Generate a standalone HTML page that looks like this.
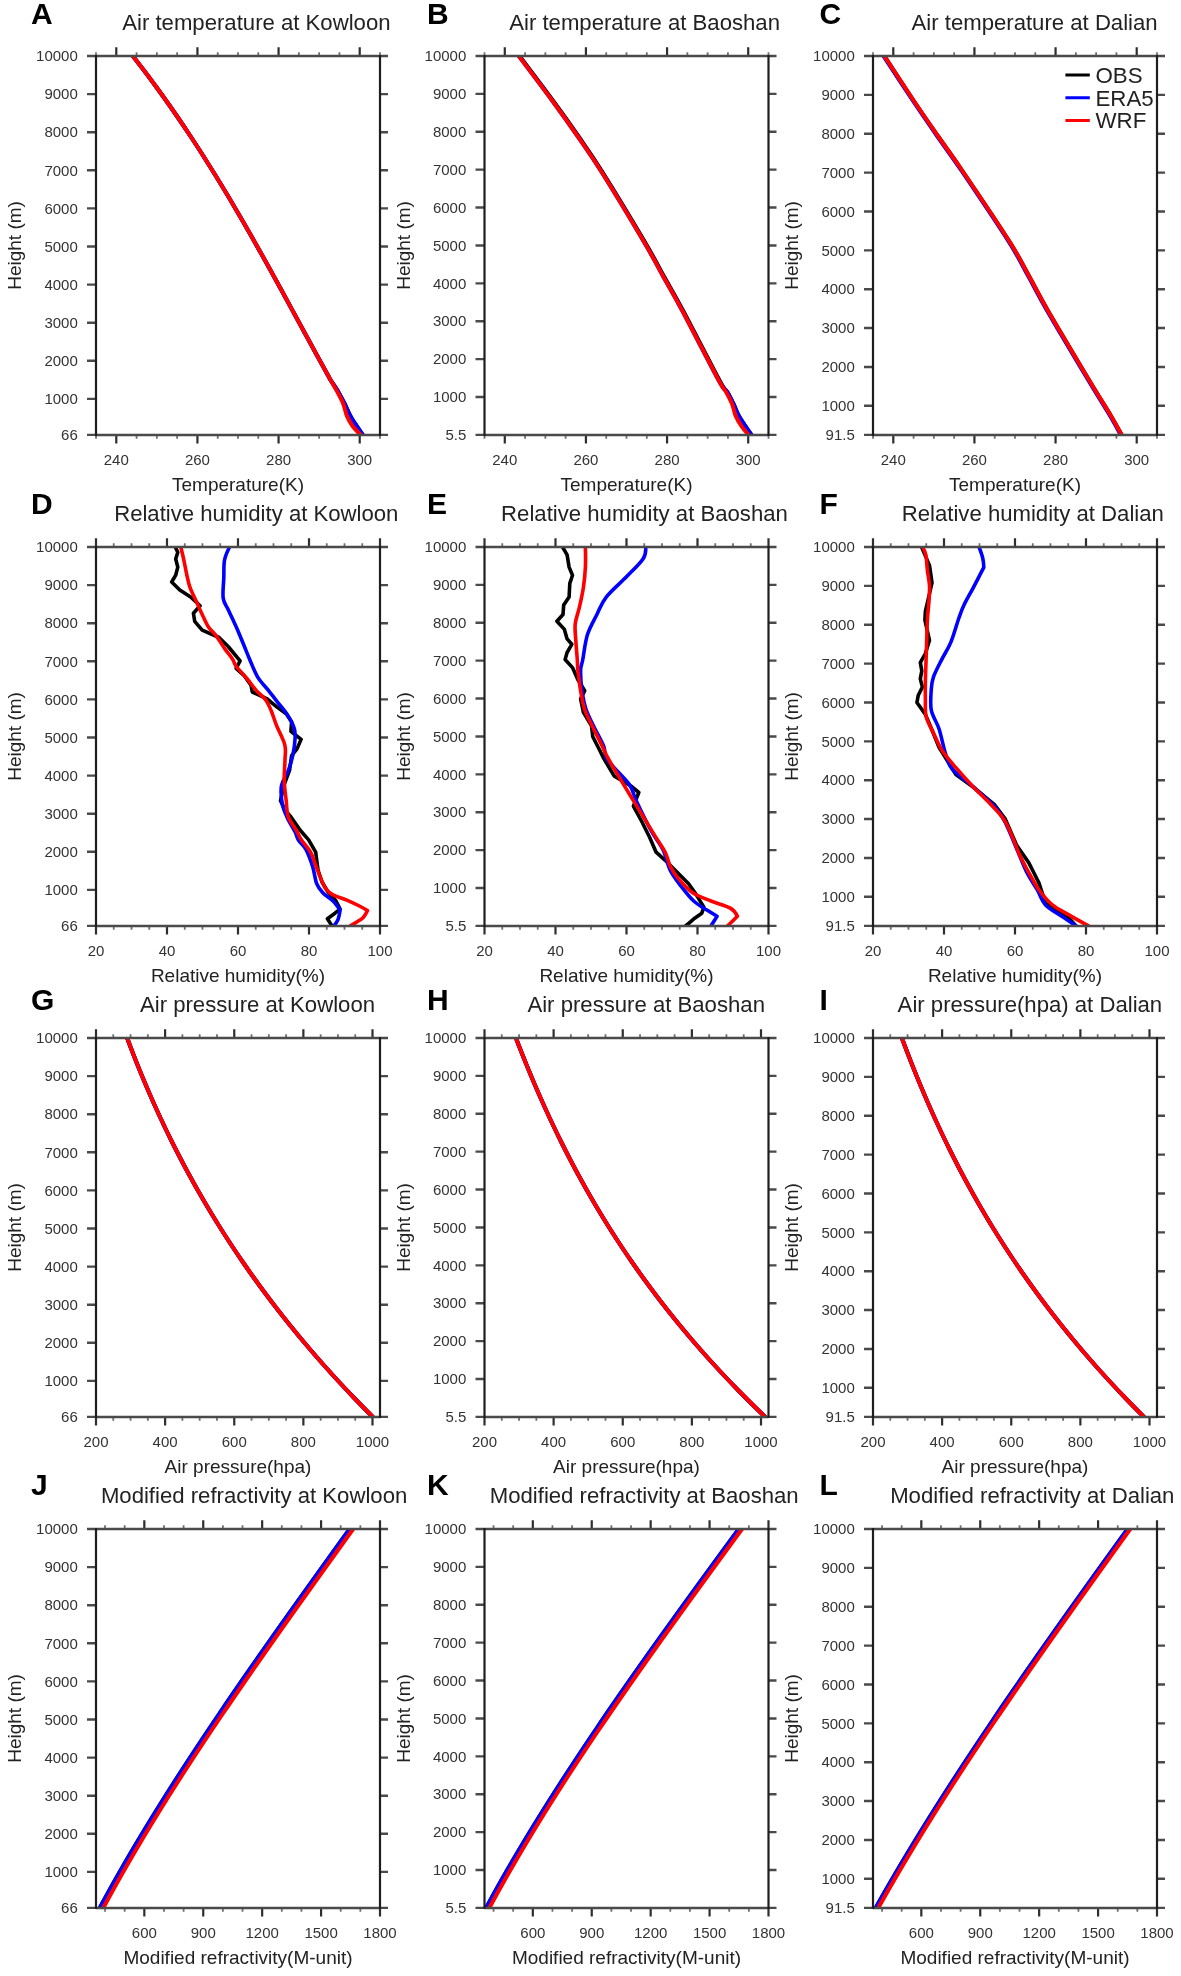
<!DOCTYPE html>
<html><head><meta charset="utf-8"><style>
html,body{margin:0;padding:0;background:#fff;overflow:hidden;}
svg{display:block;will-change:transform;}
text{font-family:"Liberation Sans",sans-serif;fill:#222;}
.let{font-size:30px;font-weight:bold;fill:#000;}
.ttl{font-size:22.15px;text-anchor:middle;}
.xt{font-size:19px;text-anchor:middle;}
.tl{font-size:15px;fill:#333;}
.lg{font-size:22.3px;}
.tkh{stroke:#4a4a4a;stroke-width:2.4;fill:none;}
.tkv{stroke:#2e2e2e;stroke-width:2.2;fill:none;}
.tkm{stroke:#707070;stroke-width:1.8;fill:none;}
.frh{stroke:#4a4a4a;stroke-width:2.5;fill:none;}
.frv{stroke:#1e1e1e;stroke-width:2.2;fill:none;}
.cv{fill:none;stroke-linejoin:round;stroke-linecap:round;}
</style></head><body>
<svg width="1181" height="1976" viewBox="0 0 1181 1976">
<defs><clipPath id="c1"><rect x="96" y="55.5" width="284" height="379.9"/></clipPath><clipPath id="c2"><rect x="484.5" y="55.5" width="284" height="379.9"/></clipPath><clipPath id="c3"><rect x="873" y="55.5" width="284" height="379.9"/></clipPath><clipPath id="c4"><rect x="96" y="546.5" width="284" height="379.9"/></clipPath><clipPath id="c5"><rect x="484.5" y="546.5" width="284" height="379.9"/></clipPath><clipPath id="c6"><rect x="873" y="546.5" width="284" height="379.9"/></clipPath><clipPath id="c7"><rect x="96" y="1037.5" width="284" height="379.9"/></clipPath><clipPath id="c8"><rect x="484.5" y="1037.5" width="284" height="379.9"/></clipPath><clipPath id="c9"><rect x="873" y="1037.5" width="284" height="379.9"/></clipPath><clipPath id="c10"><rect x="96" y="1528.5" width="284" height="379.9"/></clipPath><clipPath id="c11"><rect x="484.5" y="1528.5" width="284" height="379.9"/></clipPath><clipPath id="c12"><rect x="873" y="1528.5" width="284" height="379.9"/></clipPath></defs>
<g>
<rect width="1181" height="1976" fill="#fff"/>
<text x="31" y="23.9" class="let">A</text>
<text x="256.4" y="29.5" class="ttl">Air temperature at Kowloon</text>
<text x="238" y="490.9" class="xt">Temperature(K)</text>
<text transform="translate(21,245.45) rotate(-90)" class="xt">Height (m)</text>
<text x="77.8" y="61.25" class="tl" text-anchor="end">10000</text>
<text x="77.8" y="99.35" class="tl" text-anchor="end">9000</text>
<text x="77.8" y="137.45" class="tl" text-anchor="end">8000</text>
<text x="77.8" y="175.55" class="tl" text-anchor="end">7000</text>
<text x="77.8" y="213.65" class="tl" text-anchor="end">6000</text>
<text x="77.8" y="251.75" class="tl" text-anchor="end">5000</text>
<text x="77.8" y="289.85" class="tl" text-anchor="end">4000</text>
<text x="77.8" y="327.95" class="tl" text-anchor="end">3000</text>
<text x="77.8" y="366.05" class="tl" text-anchor="end">2000</text>
<text x="77.8" y="404.15" class="tl" text-anchor="end">1000</text>
<text x="77.8" y="440.15" class="tl" text-anchor="end">66</text>
<text x="116.29" y="464.9" class="tl" text-anchor="middle">240</text>
<text x="197.43" y="464.9" class="tl" text-anchor="middle">260</text>
<text x="278.57" y="464.9" class="tl" text-anchor="middle">280</text>
<text x="359.71" y="464.9" class="tl" text-anchor="middle">300</text>
<path d="M87 56H96M380 56H388M87 94.1H96M380 94.1H388M87 132.2H96M380 132.2H388M87 170.3H96M380 170.3H388M87 208.4H96M380 208.4H388M87 246.5H96M380 246.5H388M87 284.6H96M380 284.6H388M87 322.7H96M380 322.7H388M87 360.8H96M380 360.8H388M87 398.9H96M380 398.9H388M87 434.9H96M380 434.9H388" class="tkh"/>
<path d="M116.29 47.3V56M116.29 434.9V443.6M197.43 47.3V56M197.43 434.9V443.6M278.57 47.3V56M278.57 434.9V443.6M359.71 47.3V56M359.71 434.9V443.6" class="tkv"/>
<path d="M96 52.2V56M96 434.9V438.7M136.57 52.2V56M136.57 434.9V438.7M156.86 52.2V56M156.86 434.9V438.7M177.14 52.2V56M177.14 434.9V438.7M217.71 52.2V56M217.71 434.9V438.7M238 52.2V56M238 434.9V438.7M258.29 52.2V56M258.29 434.9V438.7M298.86 52.2V56M298.86 434.9V438.7M319.14 52.2V56M319.14 434.9V438.7M339.43 52.2V56M339.43 434.9V438.7M380 52.2V56M380 434.9V438.7" class="tkm"/>
<g clip-path="url(#c1)"><path d="M132.84 56 C132.84 56 143.17 69.33 148.17 76 C153.16 82.67 158.04 89.33 162.82 96 C167.61 102.67 172.28 109.33 176.86 116 C181.45 122.67 185.94 129.33 190.35 136 C194.76 142.67 199.08 149.33 203.33 156 C207.58 162.67 211.75 169.33 215.86 176 C219.97 182.67 224 189.33 227.99 196 C231.98 202.67 235.9 209.33 239.78 216 C243.66 222.67 247.49 229.33 251.29 236 C255.08 242.67 258.83 249.33 262.56 256 C266.29 262.67 269.97 269.33 273.65 276 C277.33 282.67 280.98 289.33 284.62 296 C288.27 302.67 291.89 309.33 295.52 316 C299.15 322.67 302.77 329.33 306.41 336 C310.04 342.67 313.67 349.33 317.33 356 C320.99 362.67 326.14 372 328.35 376 C330.56 380 328.91 377.35 330.57 380 C332.23 382.65 335.96 387.95 338.3 391.9 C340.64 395.85 342.62 399.75 344.6 403.7 C346.58 407.65 348.17 411.85 350.2 415.6 C352.23 419.35 354.7 423 356.8 426.2 C358.9 429.4 362.8 434.8 362.8 434.8" class="cv" stroke="#000" stroke-width="4"/><path d="M132.84 56 C132.84 56 143.17 69.33 148.17 76 C153.16 82.67 158.04 89.33 162.82 96 C167.61 102.67 172.28 109.33 176.86 116 C181.45 122.67 185.94 129.33 190.35 136 C194.76 142.67 199.08 149.33 203.33 156 C207.58 162.67 211.75 169.33 215.86 176 C219.97 182.67 224 189.33 227.99 196 C231.98 202.67 235.9 209.33 239.78 216 C243.66 222.67 247.49 229.33 251.29 236 C255.08 242.67 258.83 249.33 262.56 256 C266.29 262.67 269.97 269.33 273.65 276 C277.33 282.67 280.98 289.33 284.62 296 C288.27 302.67 291.89 309.33 295.52 316 C299.15 322.67 302.77 329.33 306.41 336 C310.04 342.67 313.67 349.33 317.33 356 C320.99 362.67 326.14 372 328.35 376 C330.56 380 328.91 377.35 330.57 380 C332.23 382.65 335.96 387.95 338.3 391.9 C340.64 395.85 342.62 399.75 344.6 403.7 C346.58 407.65 348.17 411.85 350.2 415.6 C352.23 419.35 354.7 423 356.8 426.2 C358.9 429.4 362.8 434.8 362.8 434.8" class="cv" stroke="#0000ff" stroke-width="4"/><path d="M132.84 56 C132.84 56 143.17 69.33 148.17 76 C153.16 82.67 158.04 89.33 162.82 96 C167.61 102.67 172.28 109.33 176.86 116 C181.45 122.67 185.94 129.33 190.35 136 C194.76 142.67 199.08 149.33 203.33 156 C207.58 162.67 211.75 169.33 215.86 176 C219.97 182.67 224 189.33 227.99 196 C231.98 202.67 235.9 209.33 239.78 216 C243.66 222.67 247.49 229.33 251.29 236 C255.08 242.67 258.83 249.33 262.56 256 C266.29 262.67 269.97 269.33 273.65 276 C277.33 282.67 280.98 289.33 284.62 296 C288.27 302.67 291.89 309.33 295.52 316 C299.15 322.67 302.77 329.33 306.41 336 C310.04 342.67 313.67 349.33 317.33 356 C320.99 362.67 326.14 372 328.35 376 C330.56 380 329.08 377.35 330.57 380 C332.06 382.65 335.19 387.95 337.3 391.9 C339.41 395.85 341.62 399.75 343.2 403.7 C344.78 407.65 345.22 411.85 346.8 415.6 C348.38 419.35 350.37 423 352.7 426.2 C355.03 429.4 360.8 434.8 360.8 434.8" class="cv" stroke="#ff0000" stroke-width="4"/></g>
<path d="M96 56H380M96 434.9H380" class="frh"/>
<path d="M96 55V435.9M380 55V435.9" class="frv"/>
<text x="427" y="23.9" class="let">B</text>
<text x="644.6" y="29.5" class="ttl">Air temperature at Baoshan</text>
<text x="626.5" y="490.9" class="xt">Temperature(K)</text>
<text transform="translate(409.5,245.45) rotate(-90)" class="xt">Height (m)</text>
<text x="466.3" y="61.25" class="tl" text-anchor="end">10000</text>
<text x="466.3" y="99.14" class="tl" text-anchor="end">9000</text>
<text x="466.3" y="137.03" class="tl" text-anchor="end">8000</text>
<text x="466.3" y="174.92" class="tl" text-anchor="end">7000</text>
<text x="466.3" y="212.81" class="tl" text-anchor="end">6000</text>
<text x="466.3" y="250.69" class="tl" text-anchor="end">5000</text>
<text x="466.3" y="288.58" class="tl" text-anchor="end">4000</text>
<text x="466.3" y="326.47" class="tl" text-anchor="end">3000</text>
<text x="466.3" y="364.36" class="tl" text-anchor="end">2000</text>
<text x="466.3" y="402.25" class="tl" text-anchor="end">1000</text>
<text x="466.3" y="440.15" class="tl" text-anchor="end">5.5</text>
<text x="504.79" y="464.9" class="tl" text-anchor="middle">240</text>
<text x="585.93" y="464.9" class="tl" text-anchor="middle">260</text>
<text x="667.07" y="464.9" class="tl" text-anchor="middle">280</text>
<text x="748.21" y="464.9" class="tl" text-anchor="middle">300</text>
<path d="M475.5 56H484.5M768.5 56H776.5M475.5 93.89H484.5M768.5 93.89H776.5M475.5 131.78H484.5M768.5 131.78H776.5M475.5 169.67H484.5M768.5 169.67H776.5M475.5 207.56H484.5M768.5 207.56H776.5M475.5 245.44H484.5M768.5 245.44H776.5M475.5 283.33H484.5M768.5 283.33H776.5M475.5 321.22H484.5M768.5 321.22H776.5M475.5 359.11H484.5M768.5 359.11H776.5M475.5 397H484.5M768.5 397H776.5M475.5 434.9H484.5M768.5 434.9H776.5" class="tkh"/>
<path d="M504.79 47.3V56M504.79 434.9V443.6M585.93 47.3V56M585.93 434.9V443.6M667.07 47.3V56M667.07 434.9V443.6M748.21 47.3V56M748.21 434.9V443.6" class="tkv"/>
<path d="M484.5 52.2V56M484.5 434.9V438.7M525.07 52.2V56M525.07 434.9V438.7M545.36 52.2V56M545.36 434.9V438.7M565.64 52.2V56M565.64 434.9V438.7M606.21 52.2V56M606.21 434.9V438.7M626.5 52.2V56M626.5 434.9V438.7M646.79 52.2V56M646.79 434.9V438.7M687.36 52.2V56M687.36 434.9V438.7M707.64 52.2V56M707.64 434.9V438.7M727.93 52.2V56M727.93 434.9V438.7M768.5 52.2V56M768.5 434.9V438.7" class="tkm"/>
<g clip-path="url(#c2)"><path d="M519.6 56.1 C519.6 56.1 543.52 87.68 553.3 101 C563.08 114.32 570.22 124.33 578.3 136 C586.38 147.67 590.8 153.5 601.8 171 C612.8 188.5 633.97 223.5 644.3 241 C654.63 258.5 657.3 264.33 663.8 276 C670.3 287.67 674.05 293.67 683.3 311 C692.55 328.33 711.98 366.52 719.3 380 C726.62 393.48 724.85 387.95 727.2 391.9 C729.55 395.85 731.55 399.85 733.4 403.7 C735.25 407.55 736.48 411.53 738.3 415 C740.12 418.47 742.1 421.2 744.3 424.5 C746.5 427.8 751.5 434.8 751.5 434.8" class="cv" stroke="#000" stroke-width="4"/><path d="M518.8 56.1 C518.8 56.1 542.72 87.68 552.5 101 C562.28 114.32 569.42 124.33 577.5 136 C585.58 147.67 590 153.5 601 171 C612 188.5 633.17 223.5 643.5 241 C653.83 258.5 656.5 264.33 663 276 C669.5 287.67 673.25 293.67 682.5 311 C691.75 328.33 711.05 366.52 718.5 380 C725.95 393.48 724.72 387.95 727.2 391.9 C729.68 395.85 731.55 399.85 733.4 403.7 C735.25 407.55 736.48 411.53 738.3 415 C740.12 418.47 742.1 421.2 744.3 424.5 C746.5 427.8 751.5 434.8 751.5 434.8" class="cv" stroke="#0000ff" stroke-width="4"/><path d="M518.8 56.1 C518.8 56.1 542.72 87.68 552.5 101 C562.28 114.32 569.42 124.33 577.5 136 C585.58 147.67 590 153.5 601 171 C612 188.5 633.17 223.5 643.5 241 C653.83 258.5 656.5 264.33 663 276 C669.5 287.67 673.25 293.67 682.5 311 C691.75 328.33 711.23 366.52 718.5 380 C725.77 393.48 723.85 387.95 726.1 391.9 C728.35 395.85 730.42 399.75 732 403.7 C733.58 407.65 734.02 411.85 735.6 415.6 C737.18 419.35 739.35 423 741.5 426.2 C743.65 429.4 748.5 434.8 748.5 434.8" class="cv" stroke="#ff0000" stroke-width="4"/></g>
<path d="M484.5 56H768.5M484.5 434.9H768.5" class="frh"/>
<path d="M484.5 55V435.9M768.5 55V435.9" class="frv"/>
<text x="819.5" y="23.9" class="let">C</text>
<text x="1034.6" y="29.5" class="ttl">Air temperature at Dalian</text>
<text x="1015" y="490.9" class="xt">Temperature(K)</text>
<text transform="translate(798,245.45) rotate(-90)" class="xt">Height (m)</text>
<text x="854.8" y="61.25" class="tl" text-anchor="end">10000</text>
<text x="854.8" y="100.12" class="tl" text-anchor="end">9000</text>
<text x="854.8" y="138.98" class="tl" text-anchor="end">8000</text>
<text x="854.8" y="177.85" class="tl" text-anchor="end">7000</text>
<text x="854.8" y="216.72" class="tl" text-anchor="end">6000</text>
<text x="854.8" y="255.58" class="tl" text-anchor="end">5000</text>
<text x="854.8" y="294.45" class="tl" text-anchor="end">4000</text>
<text x="854.8" y="333.32" class="tl" text-anchor="end">3000</text>
<text x="854.8" y="372.18" class="tl" text-anchor="end">2000</text>
<text x="854.8" y="411.05" class="tl" text-anchor="end">1000</text>
<text x="854.8" y="440.15" class="tl" text-anchor="end">91.5</text>
<text x="893.29" y="464.9" class="tl" text-anchor="middle">240</text>
<text x="974.43" y="464.9" class="tl" text-anchor="middle">260</text>
<text x="1055.57" y="464.9" class="tl" text-anchor="middle">280</text>
<text x="1136.71" y="464.9" class="tl" text-anchor="middle">300</text>
<path d="M864 56H873M1157 56H1165M864 94.87H873M1157 94.87H1165M864 133.73H873M1157 133.73H1165M864 172.6H873M1157 172.6H1165M864 211.47H873M1157 211.47H1165M864 250.33H873M1157 250.33H1165M864 289.2H873M1157 289.2H1165M864 328.07H873M1157 328.07H1165M864 366.93H873M1157 366.93H1165M864 405.8H873M1157 405.8H1165M864 434.9H873M1157 434.9H1165" class="tkh"/>
<path d="M893.29 47.3V56M893.29 434.9V443.6M974.43 47.3V56M974.43 434.9V443.6M1055.57 47.3V56M1055.57 434.9V443.6M1136.71 47.3V56M1136.71 434.9V443.6" class="tkv"/>
<path d="M873 52.2V56M873 434.9V438.7M913.57 52.2V56M913.57 434.9V438.7M933.86 52.2V56M933.86 434.9V438.7M954.14 52.2V56M954.14 434.9V438.7M994.71 52.2V56M994.71 434.9V438.7M1015 52.2V56M1015 434.9V438.7M1035.29 52.2V56M1035.29 434.9V438.7M1075.86 52.2V56M1075.86 434.9V438.7M1096.14 52.2V56M1096.14 434.9V438.7M1116.43 52.2V56M1116.43 434.9V438.7M1157 52.2V56M1157 434.9V438.7" class="tkm"/>
<g clip-path="url(#c3)"><path d="M884.4 56.1 C884.4 56.1 904.98 87.68 913.9 101 C922.82 114.32 929.8 124.33 937.9 136 C946 147.67 950.63 153.5 962.5 171 C974.37 188.5 998.02 223.5 1009.1 241 C1020.18 258.5 1022.5 264.33 1029 276 C1035.5 287.67 1038 293.5 1048.1 311 C1058.2 328.5 1079.12 363.5 1089.6 381 C1100.08 398.5 1105.68 407.03 1111 416 C1116.32 424.97 1121.5 434.8 1121.5 434.8" class="cv" stroke="#000" stroke-width="4"/><path d="M883.6 56.1 C883.6 56.1 904.18 87.68 913.1 101 C922.02 114.32 929 124.33 937.1 136 C945.2 147.67 949.83 153.5 961.7 171 C973.57 188.5 997.22 223.5 1008.3 241 C1019.38 258.5 1021.7 264.33 1028.2 276 C1034.7 287.67 1037.2 293.5 1047.3 311 C1057.4 328.5 1078.32 363.5 1088.8 381 C1099.28 398.5 1104.88 407.03 1110.2 416 C1115.52 424.97 1120.7 434.8 1120.7 434.8" class="cv" stroke="#0000ff" stroke-width="4"/><path d="M884.4 56.1 C884.4 56.1 904.98 87.68 913.9 101 C922.82 114.32 929.8 124.33 937.9 136 C946 147.67 950.63 153.5 962.5 171 C974.37 188.5 998.02 223.5 1009.1 241 C1020.18 258.5 1022.5 264.33 1029 276 C1035.5 287.67 1038 293.5 1048.1 311 C1058.2 328.5 1079.12 363.5 1089.6 381 C1100.08 398.5 1105.68 407.03 1111 416 C1116.32 424.97 1121.5 434.8 1121.5 434.8" class="cv" stroke="#ff0000" stroke-width="4"/></g>
<path d="M873 56H1157M873 434.9H1157" class="frh"/>
<path d="M873 55V435.9M1157 55V435.9" class="frv"/>
<text x="31" y="513.8" class="let">D</text>
<text x="256.3" y="520.5" class="ttl">Relative humidity at Kowloon</text>
<text x="238" y="981.9" class="xt">Relative humidity(%)</text>
<text transform="translate(21,736.45) rotate(-90)" class="xt">Height (m)</text>
<text x="77.8" y="552.25" class="tl" text-anchor="end">10000</text>
<text x="77.8" y="590.35" class="tl" text-anchor="end">9000</text>
<text x="77.8" y="628.45" class="tl" text-anchor="end">8000</text>
<text x="77.8" y="666.55" class="tl" text-anchor="end">7000</text>
<text x="77.8" y="704.65" class="tl" text-anchor="end">6000</text>
<text x="77.8" y="742.75" class="tl" text-anchor="end">5000</text>
<text x="77.8" y="780.85" class="tl" text-anchor="end">4000</text>
<text x="77.8" y="818.95" class="tl" text-anchor="end">3000</text>
<text x="77.8" y="857.05" class="tl" text-anchor="end">2000</text>
<text x="77.8" y="895.15" class="tl" text-anchor="end">1000</text>
<text x="77.8" y="931.15" class="tl" text-anchor="end">66</text>
<text x="96" y="955.9" class="tl" text-anchor="middle">20</text>
<text x="167" y="955.9" class="tl" text-anchor="middle">40</text>
<text x="238" y="955.9" class="tl" text-anchor="middle">60</text>
<text x="309" y="955.9" class="tl" text-anchor="middle">80</text>
<text x="380" y="955.9" class="tl" text-anchor="middle">100</text>
<path d="M87 547H96M380 547H388M87 585.1H96M380 585.1H388M87 623.2H96M380 623.2H388M87 661.3H96M380 661.3H388M87 699.4H96M380 699.4H388M87 737.5H96M380 737.5H388M87 775.6H96M380 775.6H388M87 813.7H96M380 813.7H388M87 851.8H96M380 851.8H388M87 889.9H96M380 889.9H388M87 925.9H96M380 925.9H388" class="tkh"/>
<path d="M96 538.3V547M96 925.9V934.6M167 538.3V547M167 925.9V934.6M238 538.3V547M238 925.9V934.6M309 538.3V547M309 925.9V934.6M380 538.3V547M380 925.9V934.6" class="tkv"/>
<path d="M113.75 543.2V547M113.75 925.9V929.7M131.5 543.2V547M131.5 925.9V929.7M149.25 543.2V547M149.25 925.9V929.7M184.75 543.2V547M184.75 925.9V929.7M202.5 543.2V547M202.5 925.9V929.7M220.25 543.2V547M220.25 925.9V929.7M255.75 543.2V547M255.75 925.9V929.7M273.5 543.2V547M273.5 925.9V929.7M291.25 543.2V547M291.25 925.9V929.7M326.75 543.2V547M326.75 925.9V929.7M344.5 543.2V547M344.5 925.9V929.7M362.25 543.2V547M362.25 925.9V929.7" class="tkm"/>
<g clip-path="url(#c4)"><path d="M175.1 546.8 L177.8 552.2 L175.7 559 L177.8 567.1 L175.7 575.2 L171.7 582 L179.8 590.1 L190.6 596.9 L200.1 605.7 L193.4 613.2 L194.7 621.3 L202.2 630.1 L219.1 637.5 L228.6 647 L240.1 660.8 L236.1 668.3 L244.2 675.7 L251 685.2 L252.3 692 L267.2 698.8 L276.7 706.9 L286.2 713.7 L291.6 721.8 L290.9 731.3 L301.1 739.4 L297 748.9 L291.6 755.7 L289.6 770 L284 785 L280.5 800.6 L285 810 L291 816.9 L300 830 L308.6 839.9 L315.7 852.2 L316.7 860.3 L318 870 L322 882 L328 892 L336 901 L340.1 909.1 L335 913.2 L327.4 918.7 L332 925.9" class="cv" stroke="#000" stroke-width="3.6"/><path d="M229.3 547.5 C229.3 547.5 225.42 555.23 224.5 560.3 C223.58 565.37 224.02 571.57 223.8 577.9 C223.58 584.23 222.4 592.87 223.2 598.3 C224 603.73 226.35 605.53 228.6 610.5 C230.85 615.47 234.22 622.47 236.7 628.1 C239.18 633.73 241.35 639.12 243.5 644.3 C245.65 649.48 247.23 653.73 249.6 659.2 C251.97 664.67 254.53 671.87 257.7 677.1 C260.87 682.33 265.2 686.32 268.6 690.6 C272 694.88 274.95 698.73 278.1 702.8 C281.25 706.87 284.8 710.7 287.5 715 C290.2 719.3 293.05 724.53 294.3 728.6 C295.55 732.67 295.22 735.12 295 739.4 C294.78 743.68 294.08 749.2 293 754.3 C291.92 759.4 290.42 764.77 288.5 770 C286.58 775.23 282.55 780.13 281.5 785.7 C280.45 791.27 281.3 798.2 282.2 803.4 C283.1 808.6 284.77 812.17 286.9 816.9 C289.03 821.63 293.08 827.95 295 831.8 C296.92 835.65 296.58 837.07 298.4 840 C300.22 842.93 303.53 844.98 305.9 849.4 C308.27 853.82 310.8 860.78 312.6 866.5 C314.4 872.22 315 879.32 316.7 883.7 C318.4 888.08 320.08 889.92 322.8 892.8 C325.52 895.68 330.12 898.12 333 901 C335.88 903.88 340.1 910.1 340.1 910.1 C340.1 910.1 339.12 916.67 338.1 919.3 C337.08 921.93 334 925.9 334 925.9" class="cv" stroke="#0000ff" stroke-width="3.6"/><path d="M180.9 547.5 C180.9 547.5 182.95 555.9 183.9 560.3 C184.85 564.7 185.58 569.38 186.6 573.9 C187.62 578.42 188.42 582.88 190 587.4 C191.58 591.92 194.07 596.48 196.1 601 C198.13 605.52 200.17 610.22 202.2 614.5 C204.23 618.78 205.93 623.08 208.3 626.7 C210.67 630.32 213.7 632.58 216.4 636.2 C219.1 639.82 221.8 644.57 224.5 648.4 C227.2 652.23 230.67 656.22 232.6 659.2 C234.53 662.18 233.72 663.08 236.1 666.3 C238.48 669.52 243.52 674.45 246.9 678.5 C250.28 682.55 253.23 687 256.4 690.6 C259.57 694.2 263.42 696.7 265.9 700.1 C268.38 703.5 269.5 706.7 271.3 711 C273.1 715.3 274.45 720.27 276.7 725.9 C278.95 731.53 283.42 739.12 284.8 744.8 C286.18 750.48 285.1 754.08 285 760 C284.9 765.92 284 773.53 284.2 780.3 C284.4 787.07 285.52 794.5 286.2 800.6 C286.88 806.7 286.6 811.92 288.3 816.9 C290 821.88 294.2 826.65 296.4 830.5 C298.6 834.35 299.13 836.38 301.5 840 C303.87 843.62 308.23 847.97 310.6 852.2 C312.97 856.43 314 861 315.7 865.4 C317.4 869.8 319.1 874.7 320.8 878.6 C322.5 882.5 323.87 886.08 325.9 888.8 C327.93 891.52 329.62 893.05 333 894.9 C336.38 896.75 341.8 898.05 346.2 899.9 C350.6 901.75 355.85 904.22 359.4 906 C362.95 907.78 367.5 910.6 367.5 910.6 C367.5 910.6 365.35 915.25 363.5 917.2 C361.65 919.15 358.6 920.85 356.4 922.3 C354.2 923.75 350.3 925.9 350.3 925.9" class="cv" stroke="#ff0000" stroke-width="3.6"/></g>
<path d="M96 547H380M96 925.9H380" class="frh"/>
<path d="M96 546V926.9M380 546V926.9" class="frv"/>
<text x="427" y="513.8" class="let">E</text>
<text x="644.5" y="520.5" class="ttl">Relative humidity at Baoshan</text>
<text x="626.5" y="981.9" class="xt">Relative humidity(%)</text>
<text transform="translate(409.5,736.45) rotate(-90)" class="xt">Height (m)</text>
<text x="466.3" y="552.25" class="tl" text-anchor="end">10000</text>
<text x="466.3" y="590.14" class="tl" text-anchor="end">9000</text>
<text x="466.3" y="628.03" class="tl" text-anchor="end">8000</text>
<text x="466.3" y="665.92" class="tl" text-anchor="end">7000</text>
<text x="466.3" y="703.81" class="tl" text-anchor="end">6000</text>
<text x="466.3" y="741.69" class="tl" text-anchor="end">5000</text>
<text x="466.3" y="779.58" class="tl" text-anchor="end">4000</text>
<text x="466.3" y="817.47" class="tl" text-anchor="end">3000</text>
<text x="466.3" y="855.36" class="tl" text-anchor="end">2000</text>
<text x="466.3" y="893.25" class="tl" text-anchor="end">1000</text>
<text x="466.3" y="931.15" class="tl" text-anchor="end">5.5</text>
<text x="484.5" y="955.9" class="tl" text-anchor="middle">20</text>
<text x="555.5" y="955.9" class="tl" text-anchor="middle">40</text>
<text x="626.5" y="955.9" class="tl" text-anchor="middle">60</text>
<text x="697.5" y="955.9" class="tl" text-anchor="middle">80</text>
<text x="768.5" y="955.9" class="tl" text-anchor="middle">100</text>
<path d="M475.5 547H484.5M768.5 547H776.5M475.5 584.89H484.5M768.5 584.89H776.5M475.5 622.78H484.5M768.5 622.78H776.5M475.5 660.67H484.5M768.5 660.67H776.5M475.5 698.56H484.5M768.5 698.56H776.5M475.5 736.44H484.5M768.5 736.44H776.5M475.5 774.33H484.5M768.5 774.33H776.5M475.5 812.22H484.5M768.5 812.22H776.5M475.5 850.11H484.5M768.5 850.11H776.5M475.5 888H484.5M768.5 888H776.5M475.5 925.9H484.5M768.5 925.9H776.5" class="tkh"/>
<path d="M484.5 538.3V547M484.5 925.9V934.6M555.5 538.3V547M555.5 925.9V934.6M626.5 538.3V547M626.5 925.9V934.6M697.5 538.3V547M697.5 925.9V934.6M768.5 538.3V547M768.5 925.9V934.6" class="tkv"/>
<path d="M502.25 543.2V547M502.25 925.9V929.7M520 543.2V547M520 925.9V929.7M537.75 543.2V547M537.75 925.9V929.7M573.25 543.2V547M573.25 925.9V929.7M591 543.2V547M591 925.9V929.7M608.75 543.2V547M608.75 925.9V929.7M644.25 543.2V547M644.25 925.9V929.7M662 543.2V547M662 925.9V929.7M679.75 543.2V547M679.75 925.9V929.7M715.25 543.2V547M715.25 925.9V929.7M733 543.2V547M733 925.9V929.7M750.75 543.2V547M750.75 925.9V929.7" class="tkm"/>
<g clip-path="url(#c5)"><path d="M562.4 546.8 L567.1 554.9 L569.1 567.1 L572.5 575.2 L569.8 583.4 L569.1 596.9 L563.7 605 L563 614.5 L556.9 621.3 L564.4 629.4 L567.1 638.9 L571.8 644.3 L567.1 652.5 L565.1 659.5 L572.5 667.6 L577.9 679.8 L584.7 690.6 L580.6 698.8 L583.4 712.3 L591.5 725.9 L592.8 736.7 L598.3 747.5 L603.7 758.4 L614.4 776.3 L630.6 785.7 L638.8 792.5 L633.4 806.1 L641.5 821 L649.6 837.2 L656.1 852.2 L665.2 860.3 L675.4 870.5 L688.6 883.7 L695.7 893.9 L703.9 907.1 L701.8 913.2 L694.7 918.2 L687.6 924.3 L685.5 925.9" class="cv" stroke="#000" stroke-width="3.6"/><path d="M645.7 547.5 C645.7 547.5 646.17 554.15 643 559 C639.83 563.85 632.8 570.28 626.7 576.6 C620.6 582.92 611.37 590.58 606.4 596.9 C601.43 603.22 600.07 608.18 596.9 614.5 C593.73 620.82 589.77 627.22 587.4 634.8 C585.03 642.38 583.83 654.08 582.7 660 C581.57 665.92 580.72 665.2 580.6 670.3 C580.48 675.4 581.08 684.05 582 690.6 C582.92 697.15 584.07 703.5 586.1 709.6 C588.13 715.7 591.27 721.1 594.2 727.2 C597.13 733.3 601.47 740.73 603.7 746.2 C605.93 751.67 603.33 753.63 607.6 760 C611.87 766.37 624.55 777.63 629.3 784.4 C634.05 791.17 632.48 792.92 636.1 800.6 C639.72 808.28 646.48 822.23 651 830.5 C655.52 838.77 659.98 843.53 663.2 850.2 C666.42 856.87 667.25 864.42 670.3 870.5 C673.35 876.58 677.6 881.62 681.5 886.7 C685.4 891.78 689.47 897.1 693.7 901 C697.93 904.9 703 907.57 706.9 910.1 C710.8 912.63 717.1 916.2 717.1 916.2 C717.1 916.2 713.02 922.68 712 924.3 C710.98 925.92 711 925.9 711 925.9" class="cv" stroke="#0000ff" stroke-width="3.6"/><path d="M585.4 547.5 C585.4 547.5 585.73 560.45 585.4 567.1 C585.07 573.75 584.42 580.63 583.4 587.4 C582.38 594.17 580.67 601.6 579.3 607.7 C577.93 613.8 575.77 618.35 575.2 624 C574.63 629.65 575.55 635.6 575.9 641.6 C576.25 647.6 576.97 655.22 577.3 660 C577.63 664.78 577.35 665.2 577.9 670.3 C578.45 675.4 579.47 684.05 580.6 690.6 C581.73 697.15 582.67 703.5 584.7 709.6 C586.73 715.7 589.87 721.1 592.8 727.2 C595.73 733.3 599.6 740.73 602.3 746.2 C605 751.67 603.82 750.93 609 760 C614.18 769.07 625.73 787.95 633.4 800.6 C641.07 813.25 649.7 827.3 655 835.9 C660.3 844.5 662.65 847.12 665.2 852.2 C667.75 857.28 668.1 862 670.3 866.4 C672.5 870.8 674.67 874.2 678.4 878.6 C682.13 883 687.27 889.07 692.7 892.8 C698.13 896.53 704.73 898.45 711 901 C717.27 903.55 725.9 905.57 730.3 908.1 C734.7 910.63 737.4 916.2 737.4 916.2 C737.4 916.2 730.95 922.68 729.3 924.3 C727.65 925.92 727.5 925.9 727.5 925.9" class="cv" stroke="#ff0000" stroke-width="3.6"/></g>
<path d="M484.5 547H768.5M484.5 925.9H768.5" class="frh"/>
<path d="M484.5 546V926.9M768.5 546V926.9" class="frv"/>
<text x="819.5" y="513.8" class="let">F</text>
<text x="1032.8" y="520.5" class="ttl">Relative humidity at Dalian</text>
<text x="1015" y="981.9" class="xt">Relative humidity(%)</text>
<text transform="translate(798,736.45) rotate(-90)" class="xt">Height (m)</text>
<text x="854.8" y="552.25" class="tl" text-anchor="end">10000</text>
<text x="854.8" y="591.12" class="tl" text-anchor="end">9000</text>
<text x="854.8" y="629.98" class="tl" text-anchor="end">8000</text>
<text x="854.8" y="668.85" class="tl" text-anchor="end">7000</text>
<text x="854.8" y="707.72" class="tl" text-anchor="end">6000</text>
<text x="854.8" y="746.58" class="tl" text-anchor="end">5000</text>
<text x="854.8" y="785.45" class="tl" text-anchor="end">4000</text>
<text x="854.8" y="824.32" class="tl" text-anchor="end">3000</text>
<text x="854.8" y="863.18" class="tl" text-anchor="end">2000</text>
<text x="854.8" y="902.05" class="tl" text-anchor="end">1000</text>
<text x="854.8" y="931.15" class="tl" text-anchor="end">91.5</text>
<text x="873" y="955.9" class="tl" text-anchor="middle">20</text>
<text x="944" y="955.9" class="tl" text-anchor="middle">40</text>
<text x="1015" y="955.9" class="tl" text-anchor="middle">60</text>
<text x="1086" y="955.9" class="tl" text-anchor="middle">80</text>
<text x="1157" y="955.9" class="tl" text-anchor="middle">100</text>
<path d="M864 547H873M1157 547H1165M864 585.87H873M1157 585.87H1165M864 624.73H873M1157 624.73H1165M864 663.6H873M1157 663.6H1165M864 702.47H873M1157 702.47H1165M864 741.33H873M1157 741.33H1165M864 780.2H873M1157 780.2H1165M864 819.07H873M1157 819.07H1165M864 857.93H873M1157 857.93H1165M864 896.8H873M1157 896.8H1165M864 925.9H873M1157 925.9H1165" class="tkh"/>
<path d="M873 538.3V547M873 925.9V934.6M944 538.3V547M944 925.9V934.6M1015 538.3V547M1015 925.9V934.6M1086 538.3V547M1086 925.9V934.6M1157 538.3V547M1157 925.9V934.6" class="tkv"/>
<path d="M890.75 543.2V547M890.75 925.9V929.7M908.5 543.2V547M908.5 925.9V929.7M926.25 543.2V547M926.25 925.9V929.7M961.75 543.2V547M961.75 925.9V929.7M979.5 543.2V547M979.5 925.9V929.7M997.25 543.2V547M997.25 925.9V929.7M1032.75 543.2V547M1032.75 925.9V929.7M1050.5 543.2V547M1050.5 925.9V929.7M1068.25 543.2V547M1068.25 925.9V929.7M1103.75 543.2V547M1103.75 925.9V929.7M1121.5 543.2V547M1121.5 925.9V929.7M1139.25 543.2V547M1139.25 925.9V929.7" class="tkm"/>
<g clip-path="url(#c6)"><path d="M921.8 547.6 L929.5 565.4 L932 582.7 L929 595.9 L925.4 611.1 L924.9 620 L929.5 640.3 L925.4 653.5 L920.3 662.7 L921.8 670.8 L920.3 678.9 L922.4 687.1 L918.3 695.2 L916.9 702.5 L925.4 714.4 L932 730 L939 747.4 L955.9 774.5 L974.5 788.1 L994.8 805 L1005 818.5 L1016.8 845.6 L1028.7 862.6 L1032.1 869.3 L1038.9 882.9 L1045.6 903.2 L1069.3 918.5 L1076.1 925.9" class="cv" stroke="#000" stroke-width="3.6"/><path d="M979.3 547.6 C979.3 547.6 982.05 555 982.8 558.3 C983.55 561.6 983.8 567.4 983.8 567.4 C983.8 567.4 976.5 581.53 973.2 587.8 C969.9 594.07 966.38 599.97 964 605 C961.62 610.03 961.1 611.77 958.9 618 C956.7 624.23 953.67 635.47 950.8 642.4 C947.93 649.33 944.58 653.85 941.7 659.6 C938.82 665.35 935.23 671.98 933.5 676.9 C931.77 681.82 931.67 683.55 931.3 689.1 C930.93 694.65 930.02 703.58 931.3 710.2 C932.58 716.82 936.6 721.47 939 728.8 C941.4 736.13 943.45 747.43 945.7 754.2 C947.95 760.97 947.98 764.03 952.5 769.4 C957.02 774.77 965.75 780.18 972.8 786.4 C979.85 792.62 989.43 800.78 994.8 806.7 C1000.17 812.62 1001.33 814.85 1005 821.9 C1008.67 828.95 1013.13 840.53 1016.8 849 C1020.47 857.47 1023.6 865.92 1027 872.7 C1030.4 879.48 1034.1 884.33 1037.2 889.7 C1040.3 895.07 1041.37 900.38 1045.6 904.9 C1049.83 909.42 1057.52 913.3 1062.6 916.8 C1067.68 920.3 1076.1 925.9 1076.1 925.9" class="cv" stroke="#0000ff" stroke-width="3.6"/><path d="M922.9 547.6 C922.9 547.6 925.15 551.38 925.9 555.2 C926.65 559.02 926.8 565.42 927.4 570.5 C928 575.58 929.23 580.62 929.5 585.7 C929.77 590.78 929.35 595.28 929 601 C928.65 606.72 927.83 611.75 927.4 620 C926.97 628.25 926.73 640.33 926.4 650.5 C926.07 660.67 925.57 672.75 925.4 681 C925.23 689.25 925.27 694.02 925.4 700 C925.53 705.98 924.78 711.25 926.2 716.9 C927.62 722.55 931.22 728.25 933.9 733.9 C936.58 739.55 938.63 745.17 942.3 750.8 C945.97 756.43 950.82 761.77 955.9 767.7 C960.98 773.63 967.43 780.75 972.8 786.4 C978.17 792.05 983.02 796.25 988.1 801.6 C993.18 806.95 999.35 812.85 1003.3 818.5 C1007.25 824.15 1009.27 829.85 1011.8 835.5 C1014.33 841.15 1015.97 846.77 1018.5 852.4 C1021.03 858.03 1023.6 863.08 1027 869.3 C1030.4 875.52 1034.67 883.77 1038.9 889.7 C1043.13 895.63 1047.33 900.67 1052.4 904.9 C1057.47 909.13 1063.28 911.6 1069.3 915.1 C1075.32 918.6 1088.5 925.9 1088.5 925.9" class="cv" stroke="#ff0000" stroke-width="3.6"/></g>
<path d="M873 547H1157M873 925.9H1157" class="frh"/>
<path d="M873 546V926.9M1157 546V926.9" class="frv"/>
<text x="31" y="1009.5" class="let">G</text>
<text x="257.5" y="1011.5" class="ttl">Air pressure at Kowloon</text>
<text x="238" y="1472.9" class="xt">Air pressure(hpa)</text>
<text transform="translate(21,1227.45) rotate(-90)" class="xt">Height (m)</text>
<text x="77.8" y="1043.25" class="tl" text-anchor="end">10000</text>
<text x="77.8" y="1081.35" class="tl" text-anchor="end">9000</text>
<text x="77.8" y="1119.45" class="tl" text-anchor="end">8000</text>
<text x="77.8" y="1157.55" class="tl" text-anchor="end">7000</text>
<text x="77.8" y="1195.65" class="tl" text-anchor="end">6000</text>
<text x="77.8" y="1233.75" class="tl" text-anchor="end">5000</text>
<text x="77.8" y="1271.85" class="tl" text-anchor="end">4000</text>
<text x="77.8" y="1309.95" class="tl" text-anchor="end">3000</text>
<text x="77.8" y="1348.05" class="tl" text-anchor="end">2000</text>
<text x="77.8" y="1386.15" class="tl" text-anchor="end">1000</text>
<text x="77.8" y="1422.15" class="tl" text-anchor="end">66</text>
<text x="96" y="1446.9" class="tl" text-anchor="middle">200</text>
<text x="165.12" y="1446.9" class="tl" text-anchor="middle">400</text>
<text x="234.25" y="1446.9" class="tl" text-anchor="middle">600</text>
<text x="303.37" y="1446.9" class="tl" text-anchor="middle">800</text>
<text x="372.5" y="1446.9" class="tl" text-anchor="middle">1000</text>
<path d="M87 1038H96M380 1038H388M87 1076.1H96M380 1076.1H388M87 1114.2H96M380 1114.2H388M87 1152.3H96M380 1152.3H388M87 1190.4H96M380 1190.4H388M87 1228.5H96M380 1228.5H388M87 1266.6H96M380 1266.6H388M87 1304.7H96M380 1304.7H388M87 1342.8H96M380 1342.8H388M87 1380.9H96M380 1380.9H388M87 1416.9H96M380 1416.9H388" class="tkh"/>
<path d="M96 1029.3V1038M96 1416.9V1425.6M165.12 1029.3V1038M165.12 1416.9V1425.6M234.25 1029.3V1038M234.25 1416.9V1425.6M303.37 1029.3V1038M303.37 1416.9V1425.6M372.5 1029.3V1038M372.5 1416.9V1425.6" class="tkv"/>
<path d="M113.28 1034.2V1038M113.28 1416.9V1420.7M130.56 1034.2V1038M130.56 1416.9V1420.7M147.84 1034.2V1038M147.84 1416.9V1420.7M182.41 1034.2V1038M182.41 1416.9V1420.7M199.69 1034.2V1038M199.69 1416.9V1420.7M216.97 1034.2V1038M216.97 1416.9V1420.7M251.53 1034.2V1038M251.53 1416.9V1420.7M268.81 1034.2V1038M268.81 1416.9V1420.7M286.09 1034.2V1038M286.09 1416.9V1420.7M320.66 1034.2V1038M320.66 1416.9V1420.7M337.94 1034.2V1038M337.94 1416.9V1420.7M355.22 1034.2V1038M355.22 1416.9V1420.7" class="tkm"/>
<g clip-path="url(#c7)"><path d="M127.13 1038 L130.13 1046 L133.21 1054 L136.35 1062 L139.57 1070 L142.86 1078 L146.23 1086 L149.67 1094 L153.19 1102 L156.79 1110 L160.48 1118 L164.25 1126 L168.1 1134 L172.04 1142 L176.07 1150 L180.2 1158 L184.41 1166 L188.72 1174 L193.12 1182 L197.62 1190 L202.22 1198 L206.92 1206 L211.72 1214 L216.63 1222 L221.64 1230 L226.76 1238 L231.98 1246 L237.32 1254 L242.77 1262 L248.34 1270 L254.02 1278 L259.81 1286 L265.73 1294 L271.76 1302 L277.92 1310 L284.21 1318 L290.61 1326 L297.15 1334 L303.81 1342 L310.61 1350 L317.54 1358 L324.6 1366 L331.79 1374 L339.13 1382 L346.6 1390 L354.21 1398 L361.97 1406 L369.87 1414 L372.77 1416.9" class="cv" stroke="#000" stroke-width="4"/><path d="M127.13 1038 L130.13 1046 L133.21 1054 L136.35 1062 L139.57 1070 L142.86 1078 L146.23 1086 L149.67 1094 L153.19 1102 L156.79 1110 L160.48 1118 L164.25 1126 L168.1 1134 L172.04 1142 L176.07 1150 L180.2 1158 L184.41 1166 L188.72 1174 L193.12 1182 L197.62 1190 L202.22 1198 L206.92 1206 L211.72 1214 L216.63 1222 L221.64 1230 L226.76 1238 L231.98 1246 L237.32 1254 L242.77 1262 L248.34 1270 L254.02 1278 L259.81 1286 L265.73 1294 L271.76 1302 L277.92 1310 L284.21 1318 L290.61 1326 L297.15 1334 L303.81 1342 L310.61 1350 L317.54 1358 L324.6 1366 L331.79 1374 L339.13 1382 L346.6 1390 L354.21 1398 L361.97 1406 L369.87 1414 L372.77 1416.9" class="cv" stroke="#0000ff" stroke-width="4"/><path d="M127.13 1038 L130.13 1046 L133.21 1054 L136.35 1062 L139.57 1070 L142.86 1078 L146.23 1086 L149.67 1094 L153.19 1102 L156.79 1110 L160.48 1118 L164.25 1126 L168.1 1134 L172.04 1142 L176.07 1150 L180.2 1158 L184.41 1166 L188.72 1174 L193.12 1182 L197.62 1190 L202.22 1198 L206.92 1206 L211.72 1214 L216.63 1222 L221.64 1230 L226.76 1238 L231.98 1246 L237.32 1254 L242.77 1262 L248.34 1270 L254.02 1278 L259.81 1286 L265.73 1294 L271.76 1302 L277.92 1310 L284.21 1318 L290.61 1326 L297.15 1334 L303.81 1342 L310.61 1350 L317.54 1358 L324.6 1366 L331.79 1374 L339.13 1382 L346.6 1390 L354.21 1398 L361.97 1406 L369.87 1414 L372.77 1416.9" class="cv" stroke="#ff0000" stroke-width="4"/></g>
<path d="M96 1038H380M96 1416.9H380" class="frh"/>
<path d="M96 1037V1417.9M380 1037V1417.9" class="frv"/>
<text x="427" y="1009.5" class="let">H</text>
<text x="646.2" y="1011.5" class="ttl">Air pressure at Baoshan</text>
<text x="626.5" y="1472.9" class="xt">Air pressure(hpa)</text>
<text transform="translate(409.5,1227.45) rotate(-90)" class="xt">Height (m)</text>
<text x="466.3" y="1043.25" class="tl" text-anchor="end">10000</text>
<text x="466.3" y="1081.14" class="tl" text-anchor="end">9000</text>
<text x="466.3" y="1119.03" class="tl" text-anchor="end">8000</text>
<text x="466.3" y="1156.92" class="tl" text-anchor="end">7000</text>
<text x="466.3" y="1194.81" class="tl" text-anchor="end">6000</text>
<text x="466.3" y="1232.69" class="tl" text-anchor="end">5000</text>
<text x="466.3" y="1270.58" class="tl" text-anchor="end">4000</text>
<text x="466.3" y="1308.47" class="tl" text-anchor="end">3000</text>
<text x="466.3" y="1346.36" class="tl" text-anchor="end">2000</text>
<text x="466.3" y="1384.25" class="tl" text-anchor="end">1000</text>
<text x="466.3" y="1422.15" class="tl" text-anchor="end">5.5</text>
<text x="484.5" y="1446.9" class="tl" text-anchor="middle">200</text>
<text x="553.62" y="1446.9" class="tl" text-anchor="middle">400</text>
<text x="622.75" y="1446.9" class="tl" text-anchor="middle">600</text>
<text x="691.87" y="1446.9" class="tl" text-anchor="middle">800</text>
<text x="761" y="1446.9" class="tl" text-anchor="middle">1000</text>
<path d="M475.5 1038H484.5M768.5 1038H776.5M475.5 1075.89H484.5M768.5 1075.89H776.5M475.5 1113.78H484.5M768.5 1113.78H776.5M475.5 1151.67H484.5M768.5 1151.67H776.5M475.5 1189.56H484.5M768.5 1189.56H776.5M475.5 1227.44H484.5M768.5 1227.44H776.5M475.5 1265.33H484.5M768.5 1265.33H776.5M475.5 1303.22H484.5M768.5 1303.22H776.5M475.5 1341.11H484.5M768.5 1341.11H776.5M475.5 1379H484.5M768.5 1379H776.5M475.5 1416.9H484.5M768.5 1416.9H776.5" class="tkh"/>
<path d="M484.5 1029.3V1038M484.5 1416.9V1425.6M553.62 1029.3V1038M553.62 1416.9V1425.6M622.75 1029.3V1038M622.75 1416.9V1425.6M691.87 1029.3V1038M691.87 1416.9V1425.6M761 1029.3V1038M761 1416.9V1425.6" class="tkv"/>
<path d="M501.78 1034.2V1038M501.78 1416.9V1420.7M519.06 1034.2V1038M519.06 1416.9V1420.7M536.34 1034.2V1038M536.34 1416.9V1420.7M570.91 1034.2V1038M570.91 1416.9V1420.7M588.19 1034.2V1038M588.19 1416.9V1420.7M605.47 1034.2V1038M605.47 1416.9V1420.7M640.03 1034.2V1038M640.03 1416.9V1420.7M657.31 1034.2V1038M657.31 1416.9V1420.7M674.59 1034.2V1038M674.59 1416.9V1420.7M709.16 1034.2V1038M709.16 1416.9V1420.7M726.44 1034.2V1038M726.44 1416.9V1420.7M743.72 1034.2V1038M743.72 1416.9V1420.7" class="tkm"/>
<g clip-path="url(#c8)"><path d="M515.92 1038 L519.01 1046 L522.16 1054 L525.37 1062 L528.63 1070 L531.97 1078 L535.37 1086 L538.84 1094 L542.38 1102 L545.99 1110 L549.68 1118 L553.45 1126 L557.3 1134 L561.23 1142 L565.25 1150 L569.36 1158 L573.55 1166 L577.85 1174 L582.23 1182 L586.72 1190 L591.31 1198 L595.99 1206 L600.79 1214 L605.69 1222 L610.71 1230 L615.83 1238 L621.07 1246 L626.43 1254 L631.91 1262 L637.52 1270 L643.24 1278 L649.1 1286 L655.08 1294 L661.2 1302 L667.45 1310 L673.84 1318 L680.37 1326 L687.05 1334 L693.86 1342 L700.83 1350 L707.94 1358 L715.21 1366 L722.63 1374 L730.2 1382 L737.94 1390 L745.84 1398 L753.9 1406 L762.13 1414 L765.15 1416.9" class="cv" stroke="#000" stroke-width="4"/><path d="M515.92 1038 L519.01 1046 L522.16 1054 L525.37 1062 L528.63 1070 L531.97 1078 L535.37 1086 L538.84 1094 L542.38 1102 L545.99 1110 L549.68 1118 L553.45 1126 L557.3 1134 L561.23 1142 L565.25 1150 L569.36 1158 L573.55 1166 L577.85 1174 L582.23 1182 L586.72 1190 L591.31 1198 L595.99 1206 L600.79 1214 L605.69 1222 L610.71 1230 L615.83 1238 L621.07 1246 L626.43 1254 L631.91 1262 L637.52 1270 L643.24 1278 L649.1 1286 L655.08 1294 L661.2 1302 L667.45 1310 L673.84 1318 L680.37 1326 L687.05 1334 L693.86 1342 L700.83 1350 L707.94 1358 L715.21 1366 L722.63 1374 L730.2 1382 L737.94 1390 L745.84 1398 L753.9 1406 L762.13 1414 L765.15 1416.9" class="cv" stroke="#0000ff" stroke-width="4"/><path d="M515.92 1038 L519.01 1046 L522.16 1054 L525.37 1062 L528.63 1070 L531.97 1078 L535.37 1086 L538.84 1094 L542.38 1102 L545.99 1110 L549.68 1118 L553.45 1126 L557.3 1134 L561.23 1142 L565.25 1150 L569.36 1158 L573.55 1166 L577.85 1174 L582.23 1182 L586.72 1190 L591.31 1198 L595.99 1206 L600.79 1214 L605.69 1222 L610.71 1230 L615.83 1238 L621.07 1246 L626.43 1254 L631.91 1262 L637.52 1270 L643.24 1278 L649.1 1286 L655.08 1294 L661.2 1302 L667.45 1310 L673.84 1318 L680.37 1326 L687.05 1334 L693.86 1342 L700.83 1350 L707.94 1358 L715.21 1366 L722.63 1374 L730.2 1382 L737.94 1390 L745.84 1398 L753.9 1406 L762.13 1414 L765.15 1416.9" class="cv" stroke="#ff0000" stroke-width="4"/></g>
<path d="M484.5 1038H768.5M484.5 1416.9H768.5" class="frh"/>
<path d="M484.5 1037V1417.9M768.5 1037V1417.9" class="frv"/>
<text x="819.5" y="1009.5" class="let">I</text>
<text x="1029.9" y="1011.5" class="ttl">Air pressure(hpa) at Dalian</text>
<text x="1015" y="1472.9" class="xt">Air pressure(hpa)</text>
<text transform="translate(798,1227.45) rotate(-90)" class="xt">Height (m)</text>
<text x="854.8" y="1043.25" class="tl" text-anchor="end">10000</text>
<text x="854.8" y="1082.12" class="tl" text-anchor="end">9000</text>
<text x="854.8" y="1120.98" class="tl" text-anchor="end">8000</text>
<text x="854.8" y="1159.85" class="tl" text-anchor="end">7000</text>
<text x="854.8" y="1198.72" class="tl" text-anchor="end">6000</text>
<text x="854.8" y="1237.58" class="tl" text-anchor="end">5000</text>
<text x="854.8" y="1276.45" class="tl" text-anchor="end">4000</text>
<text x="854.8" y="1315.32" class="tl" text-anchor="end">3000</text>
<text x="854.8" y="1354.18" class="tl" text-anchor="end">2000</text>
<text x="854.8" y="1393.05" class="tl" text-anchor="end">1000</text>
<text x="854.8" y="1422.15" class="tl" text-anchor="end">91.5</text>
<text x="873" y="1446.9" class="tl" text-anchor="middle">200</text>
<text x="942.12" y="1446.9" class="tl" text-anchor="middle">400</text>
<text x="1011.25" y="1446.9" class="tl" text-anchor="middle">600</text>
<text x="1080.37" y="1446.9" class="tl" text-anchor="middle">800</text>
<text x="1149.5" y="1446.9" class="tl" text-anchor="middle">1000</text>
<path d="M864 1038H873M1157 1038H1165M864 1076.87H873M1157 1076.87H1165M864 1115.73H873M1157 1115.73H1165M864 1154.6H873M1157 1154.6H1165M864 1193.47H873M1157 1193.47H1165M864 1232.33H873M1157 1232.33H1165M864 1271.2H873M1157 1271.2H1165M864 1310.07H873M1157 1310.07H1165M864 1348.93H873M1157 1348.93H1165M864 1387.8H873M1157 1387.8H1165M864 1416.9H873M1157 1416.9H1165" class="tkh"/>
<path d="M873 1029.3V1038M873 1416.9V1425.6M942.12 1029.3V1038M942.12 1416.9V1425.6M1011.25 1029.3V1038M1011.25 1416.9V1425.6M1080.37 1029.3V1038M1080.37 1416.9V1425.6M1149.5 1029.3V1038M1149.5 1416.9V1425.6" class="tkv"/>
<path d="M890.28 1034.2V1038M890.28 1416.9V1420.7M907.56 1034.2V1038M907.56 1416.9V1420.7M924.84 1034.2V1038M924.84 1416.9V1420.7M959.41 1034.2V1038M959.41 1416.9V1420.7M976.69 1034.2V1038M976.69 1416.9V1420.7M993.97 1034.2V1038M993.97 1416.9V1420.7M1028.53 1034.2V1038M1028.53 1416.9V1420.7M1045.81 1034.2V1038M1045.81 1416.9V1420.7M1063.09 1034.2V1038M1063.09 1416.9V1420.7M1097.66 1034.2V1038M1097.66 1416.9V1420.7M1114.94 1034.2V1038M1114.94 1416.9V1420.7M1132.22 1034.2V1038M1132.22 1416.9V1420.7" class="tkm"/>
<g clip-path="url(#c9)"><path d="M901.88 1038 L904.87 1046 L907.91 1054 L911.02 1062 L914.19 1070 L917.42 1078 L920.73 1086 L924.1 1094 L927.55 1102 L931.07 1110 L934.67 1118 L938.35 1126 L942.1 1134 L945.95 1142 L949.87 1150 L953.89 1158 L957.99 1166 L962.18 1174 L966.47 1182 L970.86 1190 L975.34 1198 L979.92 1206 L984.6 1214 L989.39 1222 L994.29 1230 L999.29 1238 L1004.4 1246 L1009.62 1254 L1014.96 1262 L1020.42 1270 L1026 1278 L1031.69 1286 L1037.51 1294 L1043.46 1302 L1049.53 1310 L1055.73 1318 L1062.06 1326 L1068.53 1334 L1075.13 1342 L1081.87 1350 L1088.75 1358 L1095.77 1366 L1102.94 1374 L1110.25 1382 L1117.71 1390 L1125.32 1398 L1133.08 1406 L1141 1414 L1143.91 1416.9" class="cv" stroke="#000" stroke-width="4"/><path d="M901.88 1038 L904.87 1046 L907.91 1054 L911.02 1062 L914.19 1070 L917.42 1078 L920.73 1086 L924.1 1094 L927.55 1102 L931.07 1110 L934.67 1118 L938.35 1126 L942.1 1134 L945.95 1142 L949.87 1150 L953.89 1158 L957.99 1166 L962.18 1174 L966.47 1182 L970.86 1190 L975.34 1198 L979.92 1206 L984.6 1214 L989.39 1222 L994.29 1230 L999.29 1238 L1004.4 1246 L1009.62 1254 L1014.96 1262 L1020.42 1270 L1026 1278 L1031.69 1286 L1037.51 1294 L1043.46 1302 L1049.53 1310 L1055.73 1318 L1062.06 1326 L1068.53 1334 L1075.13 1342 L1081.87 1350 L1088.75 1358 L1095.77 1366 L1102.94 1374 L1110.25 1382 L1117.71 1390 L1125.32 1398 L1133.08 1406 L1141 1414 L1143.91 1416.9" class="cv" stroke="#0000ff" stroke-width="4"/><path d="M901.88 1038 L904.87 1046 L907.91 1054 L911.02 1062 L914.19 1070 L917.42 1078 L920.73 1086 L924.1 1094 L927.55 1102 L931.07 1110 L934.67 1118 L938.35 1126 L942.1 1134 L945.95 1142 L949.87 1150 L953.89 1158 L957.99 1166 L962.18 1174 L966.47 1182 L970.86 1190 L975.34 1198 L979.92 1206 L984.6 1214 L989.39 1222 L994.29 1230 L999.29 1238 L1004.4 1246 L1009.62 1254 L1014.96 1262 L1020.42 1270 L1026 1278 L1031.69 1286 L1037.51 1294 L1043.46 1302 L1049.53 1310 L1055.73 1318 L1062.06 1326 L1068.53 1334 L1075.13 1342 L1081.87 1350 L1088.75 1358 L1095.77 1366 L1102.94 1374 L1110.25 1382 L1117.71 1390 L1125.32 1398 L1133.08 1406 L1141 1414 L1143.91 1416.9" class="cv" stroke="#ff0000" stroke-width="4"/></g>
<path d="M873 1038H1157M873 1416.9H1157" class="frh"/>
<path d="M873 1037V1417.9M1157 1037V1417.9" class="frv"/>
<text x="31" y="1494.7" class="let">J</text>
<text x="254.1" y="1502.5" class="ttl">Modified refractivity at Kowloon</text>
<text x="238" y="1963.9" class="xt">Modified refractivity(M-unit)</text>
<text transform="translate(21,1718.45) rotate(-90)" class="xt">Height (m)</text>
<text x="77.8" y="1534.25" class="tl" text-anchor="end">10000</text>
<text x="77.8" y="1572.35" class="tl" text-anchor="end">9000</text>
<text x="77.8" y="1610.45" class="tl" text-anchor="end">8000</text>
<text x="77.8" y="1648.55" class="tl" text-anchor="end">7000</text>
<text x="77.8" y="1686.65" class="tl" text-anchor="end">6000</text>
<text x="77.8" y="1724.75" class="tl" text-anchor="end">5000</text>
<text x="77.8" y="1762.85" class="tl" text-anchor="end">4000</text>
<text x="77.8" y="1800.95" class="tl" text-anchor="end">3000</text>
<text x="77.8" y="1839.05" class="tl" text-anchor="end">2000</text>
<text x="77.8" y="1877.15" class="tl" text-anchor="end">1000</text>
<text x="77.8" y="1913.15" class="tl" text-anchor="end">66</text>
<text x="144.32" y="1937.9" class="tl" text-anchor="middle">600</text>
<text x="203.24" y="1937.9" class="tl" text-anchor="middle">900</text>
<text x="262.16" y="1937.9" class="tl" text-anchor="middle">1200</text>
<text x="321.08" y="1937.9" class="tl" text-anchor="middle">1500</text>
<text x="380" y="1937.9" class="tl" text-anchor="middle">1800</text>
<path d="M87 1529H96M380 1529H388M87 1567.1H96M380 1567.1H388M87 1605.2H96M380 1605.2H388M87 1643.3H96M380 1643.3H388M87 1681.4H96M380 1681.4H388M87 1719.5H96M380 1719.5H388M87 1757.6H96M380 1757.6H388M87 1795.7H96M380 1795.7H388M87 1833.8H96M380 1833.8H388M87 1871.9H96M380 1871.9H388M87 1907.9H96M380 1907.9H388" class="tkh"/>
<path d="M144.32 1520.3V1529M144.32 1907.9V1916.6M203.24 1520.3V1529M203.24 1907.9V1916.6M262.16 1520.3V1529M262.16 1907.9V1916.6M321.08 1520.3V1529M321.08 1907.9V1916.6M380 1520.3V1529M380 1907.9V1916.6" class="tkv"/>
<path d="M105.03 1525.2V1529M105.03 1907.9V1911.7M124.67 1525.2V1529M124.67 1907.9V1911.7M163.96 1525.2V1529M163.96 1907.9V1911.7M183.6 1525.2V1529M183.6 1907.9V1911.7M222.88 1525.2V1529M222.88 1907.9V1911.7M242.52 1525.2V1529M242.52 1907.9V1911.7M281.8 1525.2V1529M281.8 1907.9V1911.7M301.44 1525.2V1529M301.44 1907.9V1911.7M340.72 1525.2V1529M340.72 1907.9V1911.7M360.36 1525.2V1529M360.36 1907.9V1911.7" class="tkm"/>
<g clip-path="url(#c10)"><path d="M349.65 1529 L343.9 1537 L338.15 1545 L332.41 1553 L326.66 1561 L320.92 1569 L315.18 1577 L309.45 1585 L303.73 1593 L298.01 1601 L292.31 1609 L286.62 1617 L280.94 1625 L275.28 1633 L269.64 1641 L264.01 1649 L258.4 1657 L252.81 1665 L247.24 1673 L241.7 1681 L236.18 1689 L230.68 1697 L225.22 1705 L219.78 1713 L214.37 1721 L208.99 1729 L203.65 1737 L198.34 1745 L193.06 1753 L187.82 1761 L182.62 1769 L177.46 1777 L172.34 1785 L167.26 1793 L162.23 1801 L157.24 1809 L152.3 1817 L147.4 1825 L142.55 1833 L137.76 1841 L133.01 1849 L128.32 1857 L123.68 1865 L119.1 1873 L114.58 1881 L110.11 1889 L105.71 1897 L101.36 1905 L99.8 1907.9" class="cv" stroke="#000" stroke-width="4"/><path d="M349.65 1529 L343.9 1537 L338.15 1545 L332.41 1553 L326.66 1561 L320.92 1569 L315.18 1577 L309.45 1585 L303.73 1593 L298.01 1601 L292.31 1609 L286.62 1617 L280.94 1625 L275.28 1633 L269.64 1641 L264.01 1649 L258.4 1657 L252.81 1665 L247.24 1673 L241.7 1681 L236.18 1689 L230.68 1697 L225.22 1705 L219.78 1713 L214.37 1721 L208.99 1729 L203.65 1737 L198.34 1745 L193.06 1753 L187.82 1761 L182.62 1769 L177.46 1777 L172.34 1785 L167.26 1793 L162.23 1801 L157.24 1809 L152.3 1817 L147.4 1825 L142.55 1833 L137.76 1841 L133.01 1849 L128.32 1857 L123.68 1865 L119.1 1873 L114.58 1881 L110.11 1889 L105.71 1897 L101.36 1905 L99.8 1907.9" class="cv" stroke="#0000ff" stroke-width="4"/><path d="M353.15 1529 L347.4 1537 L341.65 1545 L335.91 1553 L330.16 1561 L324.42 1569 L318.68 1577 L312.95 1585 L307.23 1593 L301.51 1601 L295.81 1609 L290.12 1617 L284.44 1625 L278.78 1633 L273.14 1641 L267.51 1649 L261.9 1657 L256.31 1665 L250.74 1673 L245.2 1681 L239.68 1689 L234.18 1697 L228.72 1705 L223.28 1713 L217.87 1721 L212.49 1729 L207.15 1737 L201.84 1745 L196.56 1753 L191.32 1761 L186.12 1769 L180.96 1777 L175.84 1785 L170.76 1793 L165.73 1801 L160.74 1809 L155.8 1817 L150.9 1825 L146.05 1833 L141.26 1841 L136.51 1849 L131.82 1857 L127.18 1865 L122.6 1873 L118.08 1881 L113.61 1889 L109.21 1897 L104.86 1905 L103.3 1907.9" class="cv" stroke="#ff0000" stroke-width="4"/></g>
<path d="M96 1529H380M96 1907.9H380" class="frh"/>
<path d="M96 1528V1908.9M380 1528V1908.9" class="frv"/>
<text x="427" y="1494.7" class="let">K</text>
<text x="644.2" y="1502.5" class="ttl">Modified refractivity at Baoshan</text>
<text x="626.5" y="1963.9" class="xt">Modified refractivity(M-unit)</text>
<text transform="translate(409.5,1718.45) rotate(-90)" class="xt">Height (m)</text>
<text x="466.3" y="1534.25" class="tl" text-anchor="end">10000</text>
<text x="466.3" y="1572.14" class="tl" text-anchor="end">9000</text>
<text x="466.3" y="1610.03" class="tl" text-anchor="end">8000</text>
<text x="466.3" y="1647.92" class="tl" text-anchor="end">7000</text>
<text x="466.3" y="1685.81" class="tl" text-anchor="end">6000</text>
<text x="466.3" y="1723.69" class="tl" text-anchor="end">5000</text>
<text x="466.3" y="1761.58" class="tl" text-anchor="end">4000</text>
<text x="466.3" y="1799.47" class="tl" text-anchor="end">3000</text>
<text x="466.3" y="1837.36" class="tl" text-anchor="end">2000</text>
<text x="466.3" y="1875.25" class="tl" text-anchor="end">1000</text>
<text x="466.3" y="1913.15" class="tl" text-anchor="end">5.5</text>
<text x="532.82" y="1937.9" class="tl" text-anchor="middle">600</text>
<text x="591.74" y="1937.9" class="tl" text-anchor="middle">900</text>
<text x="650.66" y="1937.9" class="tl" text-anchor="middle">1200</text>
<text x="709.58" y="1937.9" class="tl" text-anchor="middle">1500</text>
<text x="768.5" y="1937.9" class="tl" text-anchor="middle">1800</text>
<path d="M475.5 1529H484.5M768.5 1529H776.5M475.5 1566.89H484.5M768.5 1566.89H776.5M475.5 1604.78H484.5M768.5 1604.78H776.5M475.5 1642.67H484.5M768.5 1642.67H776.5M475.5 1680.56H484.5M768.5 1680.56H776.5M475.5 1718.44H484.5M768.5 1718.44H776.5M475.5 1756.33H484.5M768.5 1756.33H776.5M475.5 1794.22H484.5M768.5 1794.22H776.5M475.5 1832.11H484.5M768.5 1832.11H776.5M475.5 1870H484.5M768.5 1870H776.5M475.5 1907.9H484.5M768.5 1907.9H776.5" class="tkh"/>
<path d="M532.82 1520.3V1529M532.82 1907.9V1916.6M591.74 1520.3V1529M591.74 1907.9V1916.6M650.66 1520.3V1529M650.66 1907.9V1916.6M709.58 1520.3V1529M709.58 1907.9V1916.6M768.5 1520.3V1529M768.5 1907.9V1916.6" class="tkv"/>
<path d="M493.53 1525.2V1529M493.53 1907.9V1911.7M513.17 1525.2V1529M513.17 1907.9V1911.7M552.46 1525.2V1529M552.46 1907.9V1911.7M572.1 1525.2V1529M572.1 1907.9V1911.7M611.38 1525.2V1529M611.38 1907.9V1911.7M631.02 1525.2V1529M631.02 1907.9V1911.7M670.3 1525.2V1529M670.3 1907.9V1911.7M689.94 1525.2V1529M689.94 1907.9V1911.7M729.22 1525.2V1529M729.22 1907.9V1911.7M748.86 1525.2V1529M748.86 1907.9V1911.7" class="tkm"/>
<g clip-path="url(#c11)"><path d="M738.83 1529 L732.97 1537 L727.12 1545 L721.27 1553 L715.42 1561 L709.59 1569 L703.75 1577 L697.93 1585 L692.12 1593 L686.32 1601 L680.53 1609 L674.76 1617 L669 1625 L663.26 1633 L657.53 1641 L651.83 1649 L646.15 1657 L640.49 1665 L634.85 1673 L629.24 1681 L623.65 1689 L618.09 1697 L612.56 1705 L607.07 1713 L601.6 1721 L596.17 1729 L590.77 1737 L585.4 1745 L580.08 1753 L574.79 1761 L569.54 1769 L564.33 1777 L559.17 1785 L554.04 1793 L548.97 1801 L543.94 1809 L538.96 1817 L534.02 1825 L529.14 1833 L524.31 1841 L519.53 1849 L514.81 1857 L510.14 1865 L505.53 1873 L500.98 1881 L496.49 1889 L492.06 1897 L487.69 1905 L486.12 1907.9" class="cv" stroke="#000" stroke-width="4"/><path d="M738.83 1529 L732.97 1537 L727.12 1545 L721.27 1553 L715.42 1561 L709.59 1569 L703.75 1577 L697.93 1585 L692.12 1593 L686.32 1601 L680.53 1609 L674.76 1617 L669 1625 L663.26 1633 L657.53 1641 L651.83 1649 L646.15 1657 L640.49 1665 L634.85 1673 L629.24 1681 L623.65 1689 L618.09 1697 L612.56 1705 L607.07 1713 L601.6 1721 L596.17 1729 L590.77 1737 L585.4 1745 L580.08 1753 L574.79 1761 L569.54 1769 L564.33 1777 L559.17 1785 L554.04 1793 L548.97 1801 L543.94 1809 L538.96 1817 L534.02 1825 L529.14 1833 L524.31 1841 L519.53 1849 L514.81 1857 L510.14 1865 L505.53 1873 L500.98 1881 L496.49 1889 L492.06 1897 L487.69 1905 L486.12 1907.9" class="cv" stroke="#0000ff" stroke-width="4"/><path d="M742.03 1529 L736.17 1537 L730.32 1545 L724.47 1553 L718.62 1561 L712.79 1569 L706.95 1577 L701.13 1585 L695.32 1593 L689.52 1601 L683.73 1609 L677.96 1617 L672.2 1625 L666.46 1633 L660.73 1641 L655.03 1649 L649.35 1657 L643.69 1665 L638.05 1673 L632.44 1681 L626.85 1689 L621.29 1697 L615.76 1705 L610.27 1713 L604.8 1721 L599.37 1729 L593.97 1737 L588.6 1745 L583.28 1753 L577.99 1761 L572.74 1769 L567.53 1777 L562.37 1785 L557.24 1793 L552.17 1801 L547.14 1809 L542.16 1817 L537.22 1825 L532.34 1833 L527.51 1841 L522.73 1849 L518.01 1857 L513.34 1865 L508.73 1873 L504.18 1881 L499.69 1889 L495.26 1897 L490.89 1905 L489.32 1907.9" class="cv" stroke="#ff0000" stroke-width="4"/></g>
<path d="M484.5 1529H768.5M484.5 1907.9H768.5" class="frh"/>
<path d="M484.5 1528V1908.9M768.5 1528V1908.9" class="frv"/>
<text x="819.5" y="1494.7" class="let">L</text>
<text x="1032.3" y="1502.5" class="ttl">Modified refractivity at Dalian</text>
<text x="1015" y="1963.9" class="xt">Modified refractivity(M-unit)</text>
<text transform="translate(798,1718.45) rotate(-90)" class="xt">Height (m)</text>
<text x="854.8" y="1534.25" class="tl" text-anchor="end">10000</text>
<text x="854.8" y="1573.12" class="tl" text-anchor="end">9000</text>
<text x="854.8" y="1611.98" class="tl" text-anchor="end">8000</text>
<text x="854.8" y="1650.85" class="tl" text-anchor="end">7000</text>
<text x="854.8" y="1689.72" class="tl" text-anchor="end">6000</text>
<text x="854.8" y="1728.58" class="tl" text-anchor="end">5000</text>
<text x="854.8" y="1767.45" class="tl" text-anchor="end">4000</text>
<text x="854.8" y="1806.32" class="tl" text-anchor="end">3000</text>
<text x="854.8" y="1845.18" class="tl" text-anchor="end">2000</text>
<text x="854.8" y="1884.05" class="tl" text-anchor="end">1000</text>
<text x="854.8" y="1913.15" class="tl" text-anchor="end">91.5</text>
<text x="921.32" y="1937.9" class="tl" text-anchor="middle">600</text>
<text x="980.24" y="1937.9" class="tl" text-anchor="middle">900</text>
<text x="1039.16" y="1937.9" class="tl" text-anchor="middle">1200</text>
<text x="1098.08" y="1937.9" class="tl" text-anchor="middle">1500</text>
<text x="1157" y="1937.9" class="tl" text-anchor="middle">1800</text>
<path d="M864 1529H873M1157 1529H1165M864 1567.87H873M1157 1567.87H1165M864 1606.73H873M1157 1606.73H1165M864 1645.6H873M1157 1645.6H1165M864 1684.47H873M1157 1684.47H1165M864 1723.33H873M1157 1723.33H1165M864 1762.2H873M1157 1762.2H1165M864 1801.07H873M1157 1801.07H1165M864 1839.93H873M1157 1839.93H1165M864 1878.8H873M1157 1878.8H1165M864 1907.9H873M1157 1907.9H1165" class="tkh"/>
<path d="M921.32 1520.3V1529M921.32 1907.9V1916.6M980.24 1520.3V1529M980.24 1907.9V1916.6M1039.16 1520.3V1529M1039.16 1907.9V1916.6M1098.08 1520.3V1529M1098.08 1907.9V1916.6M1157 1520.3V1529M1157 1907.9V1916.6" class="tkv"/>
<path d="M882.03 1525.2V1529M882.03 1907.9V1911.7M901.67 1525.2V1529M901.67 1907.9V1911.7M940.96 1525.2V1529M940.96 1907.9V1911.7M960.6 1525.2V1529M960.6 1907.9V1911.7M999.88 1525.2V1529M999.88 1907.9V1911.7M1019.52 1525.2V1529M1019.52 1907.9V1911.7M1058.8 1525.2V1529M1058.8 1907.9V1911.7M1078.44 1525.2V1529M1078.44 1907.9V1911.7M1117.72 1525.2V1529M1117.72 1907.9V1911.7M1137.36 1525.2V1529M1137.36 1907.9V1911.7" class="tkm"/>
<g clip-path="url(#c12)"><path d="M1127.68 1529 L1121.91 1537 L1116.14 1545 L1110.38 1553 L1104.62 1561 L1098.87 1569 L1093.13 1577 L1087.4 1585 L1081.68 1593 L1075.96 1601 L1070.26 1609 L1064.58 1617 L1058.9 1625 L1053.25 1633 L1047.61 1641 L1041.98 1649 L1036.37 1657 L1030.79 1665 L1025.22 1673 L1019.68 1681 L1014.15 1689 L1008.65 1697 L1003.18 1705 L997.73 1713 L992.31 1721 L986.91 1729 L981.54 1737 L976.21 1745 L970.9 1753 L965.63 1761 L960.39 1769 L955.18 1777 L950.01 1785 L944.87 1793 L939.77 1801 L934.71 1809 L929.69 1817 L924.7 1825 L919.76 1833 L914.86 1841 L910.01 1849 L905.2 1857 L900.43 1865 L895.71 1873 L891.04 1881 L886.42 1889 L881.84 1897 L877.32 1905 L875.69 1907.9" class="cv" stroke="#000" stroke-width="4"/><path d="M1127.68 1529 L1121.91 1537 L1116.14 1545 L1110.38 1553 L1104.62 1561 L1098.87 1569 L1093.13 1577 L1087.4 1585 L1081.68 1593 L1075.96 1601 L1070.26 1609 L1064.58 1617 L1058.9 1625 L1053.25 1633 L1047.61 1641 L1041.98 1649 L1036.37 1657 L1030.79 1665 L1025.22 1673 L1019.68 1681 L1014.15 1689 L1008.65 1697 L1003.18 1705 L997.73 1713 L992.31 1721 L986.91 1729 L981.54 1737 L976.21 1745 L970.9 1753 L965.63 1761 L960.39 1769 L955.18 1777 L950.01 1785 L944.87 1793 L939.77 1801 L934.71 1809 L929.69 1817 L924.7 1825 L919.76 1833 L914.86 1841 L910.01 1849 L905.2 1857 L900.43 1865 L895.71 1873 L891.04 1881 L886.42 1889 L881.84 1897 L877.32 1905 L875.69 1907.9" class="cv" stroke="#0000ff" stroke-width="4"/><path d="M1130.28 1529 L1124.51 1537 L1118.74 1545 L1112.98 1553 L1107.22 1561 L1101.47 1569 L1095.73 1577 L1090 1585 L1084.28 1593 L1078.56 1601 L1072.86 1609 L1067.18 1617 L1061.5 1625 L1055.85 1633 L1050.21 1641 L1044.58 1649 L1038.97 1657 L1033.39 1665 L1027.82 1673 L1022.28 1681 L1016.75 1689 L1011.25 1697 L1005.78 1705 L1000.33 1713 L994.91 1721 L989.51 1729 L984.14 1737 L978.81 1745 L973.5 1753 L968.23 1761 L962.99 1769 L957.78 1777 L952.61 1785 L947.47 1793 L942.37 1801 L937.31 1809 L932.29 1817 L927.3 1825 L922.36 1833 L917.46 1841 L912.61 1849 L907.8 1857 L903.03 1865 L898.31 1873 L893.64 1881 L889.02 1889 L884.44 1897 L879.92 1905 L878.29 1907.9" class="cv" stroke="#ff0000" stroke-width="4"/></g>
<path d="M873 1529H1157M873 1907.9H1157" class="frh"/>
<path d="M873 1528V1908.9M1157 1528V1908.9" class="frv"/>
<path d="M1065.4 75H1089.8" stroke="#000" stroke-width="3" fill="none"/>
<text x="1095.5" y="82.9" class="lg">OBS</text>
<path d="M1065.4 97.75H1089.8" stroke="#0000ff" stroke-width="3" fill="none"/>
<text x="1095.5" y="105.65" class="lg">ERA5</text>
<path d="M1065.4 120.5H1089.8" stroke="#ff0000" stroke-width="3" fill="none"/>
<text x="1095.5" y="128.4" class="lg">WRF</text>
</g>
</svg></body></html>
